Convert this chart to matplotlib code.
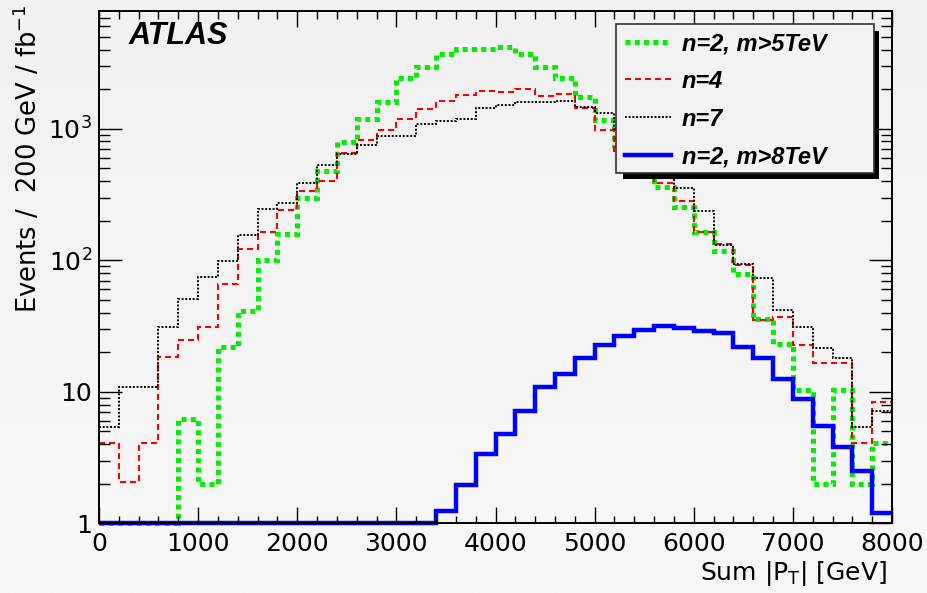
import numpy as np
import matplotlib
matplotlib.use("Agg")
import matplotlib.pyplot as plt
from matplotlib.lines import Line2D
from matplotlib.patches import Rectangle
from matplotlib.colors import LinearSegmentedColormap
from matplotlib.ticker import FixedLocator, MultipleLocator, NullFormatter

plt.rcParams.update({
    "font.family": "DejaVu Sans",
    "font.size": 18,
    "mathtext.fontset": "dejavusans",
})

# ----------------------------------------------------
# Data: events per 200 GeV bin, 0 - 8000 GeV
# ----------------------------------------------------

bin_edges = np.arange(0, 8001, 200)

n2_m5 = [0, 0, 0, 0, 6.2, 2.0, 22, 41, 100, 158,
         296, 480, 795, 1180, 1590, 2450, 2950, 3700, 4020, 4020,
         4210, 3700, 2960, 2420, 1750, 1175, 750, 520, 358, 256,
         165, 118, 79, 36, 23, 10.3, 2.0, 10.3, 2.0, 4.1]

n4 = [4.1, 2.07, 4.1, 18.5, 24.8, 31, 65.7, 121, 163, 241,
      337, 401, 655, 822, 979, 1188, 1407, 1627, 1807, 1937,
      1915, 2000, 1775, 1830, 1446, 975, 680, 500, 386, 282,
      163, 132, 92, 35, 37, 22.7, 16.5, 16.5, 4.1, 8.3]

n7 = [5.4, 10.9, 10.9, 31, 50.6, 75, 99, 155, 244, 271,
      389, 531, 640, 753, 881, 881, 1088, 1146, 1180, 1432,
      1516, 1590, 1607, 1626, 1473, 1325, 1000, 720, 500, 357,
      236, 131, 93, 73, 41.9, 31, 21.7, 18.2, 5.4, 7.2]

n2_m8 = [0, 0, 0, 0, 0, 0, 0, 0, 0, 0,
         0, 0, 0, 0, 0, 0, 0, 1.25, 1.96, 3.37,
         4.8, 7.1, 10.8, 13.7, 18.2, 22.7, 26.6, 29.5, 31.7, 30.4,
         29, 27.8, 22, 18.2, 12.6, 8.8, 5.5, 3.8, 2.5, 1.2]

labels = ["n=2, m>5TeV", "n=4", "n=7", "n=2, m>8TeV"]

y_ticks = [1, 10, 100, 1000]
y_tick_labels = ["1", "10", r"$10^{2}$", r"$10^{3}$"]
x_ticks = [0, 1000, 2000, 3000, 4000, 5000, 6000, 7000, 8000]

# ----------------------------------------------------
# Figure and background
# ----------------------------------------------------

W, H = 928, 593
fig = plt.figure(figsize=(W / 100, H / 100), dpi=100)

bg = fig.add_axes([0, 0, 1, 1], zorder=-10)
grad = np.linspace(0, 1, 256).reshape(-1, 1)
bg.imshow(grad, aspect="auto", extent=[0, 1, 0, 1],
          cmap=LinearSegmentedColormap.from_list("bg", ["#f1f1f1", "#f8f8f8"]))
bg.axis("off")

left, right, top, bottom = 99, 892, 10.7, 523.3
ax = fig.add_axes([left / W, 1 - bottom / H, (right - left) / W, (bottom - top) / H])
ax.set_facecolor("none")

ymin, ymax = 1, 7900

styles = [
    dict(color="#00ee00", lw=3.6, ls=(0, (1, 0.86))),
    dict(color="#ff0000", lw=1.5, ls=(0, (2.9, 1.9))),
    dict(color="black", lw=1.4, ls=(0, (1, 0.9))),
    dict(color="#0000ff", lw=3.2, ls="-"),
]

for vals, st in zip([n2_m5, n4, n7, n2_m8], styles):
    ax.stairs(np.clip(vals, ymin, None), bin_edges, baseline=None,
              color=st["color"], lw=st["lw"], linestyle=st["ls"], clip_on=False)

ax.set_yscale("log")
ax.set_xlim(0, 8000)
ax.set_ylim(ymin, ymax)

ax.xaxis.set_major_locator(FixedLocator(x_ticks))
ax.xaxis.set_minor_locator(MultipleLocator(200))
ax.yaxis.set_major_locator(FixedLocator(y_ticks))
ax.set_yticklabels(y_tick_labels)
minor_y = [m * 10 ** d for d in range(0, 4) for m in range(2, 10) if m * 10 ** d < ymax]
ax.yaxis.set_minor_locator(FixedLocator(minor_y))
ax.yaxis.set_minor_formatter(NullFormatter())

ax.tick_params(which="both", direction="in", top=True, right=True, width=1.0, labelsize=18)
ax.tick_params(axis="x", which="major", length=11.5, pad=6)
ax.tick_params(axis="x", which="minor", length=5.4)
ax.tick_params(axis="y", which="major", length=16.3, pad=5)
ax.tick_params(axis="y", which="minor", length=7.9)
for s in ax.spines.values():
    s.set_linewidth(1.4)

# ----------------------------------------------------
# Axis titles and label
# ----------------------------------------------------

fig.text(887 / W, 1 - 580 / H, r"Sum |P$_\mathrm{T}$| [GeV]",
         ha="right", va="baseline", fontsize=18)
fig.text(28 / W, 1 - 4 / H, r"Events /  200 GeV / fb$^{-1}$",
         ha="center", va="top", rotation=90, fontsize=18.5)
fig.text(129 / W, 1 - 44.5 / H, "ATLAS", family="Liberation Sans",
         weight="bold", style="italic", fontsize=22, ha="left", va="baseline")

# ----------------------------------------------------
# Legend (ROOT style, with shadow)
# ----------------------------------------------------

def frect(x0, y0, x1, y1, **kw):
    r = Rectangle((x0 / W, 1 - y1 / H), (x1 - x0) / W, (y1 - y0) / H,
                  transform=fig.transFigure, **kw)
    fig.add_artist(r)

frect(623, 31, 879, 179, facecolor="black", edgecolor="none", zorder=5)
frect(615.7, 24, 874, 173, facecolor="#f2f2f2", edgecolor="#333333", lw=1.2, zorder=6)

line_y = [41.7, 79.3, 117.3, 154.5]
text_y = [50, 88.5, 126.5, 163.5]

for lab, st, ly, ty in zip(labels, styles, line_y, text_y):
    fig.add_artist(Line2D([625 / W, 671 / W], [1 - ly / H, 1 - ly / H],
                          transform=fig.transFigure, color=st["color"],
                          lw=st["lw"], linestyle=st["ls"], zorder=7))
    fig.text(682 / W, 1 - ty / H, lab, family="Liberation Sans", weight="bold",
             style="italic", fontsize=17, ha="left", va="baseline", zorder=7)

plt.savefig("out.png", dpi=100)
